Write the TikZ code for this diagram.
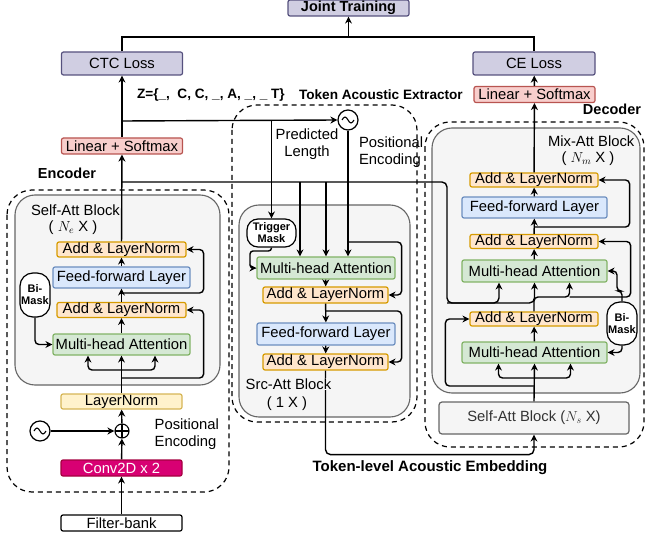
\documentclass[tikz,border=0pt]{standalone}
\usepackage{fontspec}
\setmainfont{Liberation Sans}
\usetikzlibrary{arrows.meta, positioning}
\definecolor{lossfill}{RGB}{208,206,226}
\definecolor{lossdraw}{RGB}{86,81,126}
\definecolor{linfill}{RGB}{248,206,204}
\definecolor{lindraw}{RGB}{184,84,80}
\definecolor{alnfill}{RGB}{255,230,204}
\definecolor{alndraw}{RGB}{215,155,0}
\definecolor{fffill}{RGB}{218,232,252}
\definecolor{ffdraw}{RGB}{108,142,191}
\definecolor{mhafill}{RGB}{213,232,212}
\definecolor{mhadraw}{RGB}{130,179,102}
\definecolor{lnfill}{RGB}{255,242,204}
\definecolor{lndraw}{RGB}{214,182,86}
\definecolor{convfill}{RGB}{216,0,115}
\definecolor{convdraw}{RGB}{165,0,64}
\definecolor{grayfill}{RGB}{245,245,245}
\definecolor{graydraw}{RGB}{102,102,102}

\begin{document}
\begin{tikzpicture}[x=1pt,y=-1pt,>={Stealth[length=7pt,width=7pt]},line width=1.4pt,
    every node/.style={font=\fontsize{14.8}{17}\selectfont},
    blk/.style={draw,rounded corners=2pt,inner sep=0pt,line width=1.2pt},
    loss/.style={blk,fill=lossfill,draw=lossdraw,minimum height=23pt},
    lin/.style={blk,fill=linfill,draw=lindraw,minimum width=121pt,minimum height=16pt},
    aln/.style={blk,fill=alnfill,draw=alndraw,minimum height=15pt},
    ffl/.style={blk,fill=fffill,draw=ffdraw,minimum height=21pt},
    mha/.style={blk,fill=mhafill,draw=mhadraw,minimum height=21pt},
    mask/.style={draw,fill=white,inner sep=0pt,align=center,line width=1.2pt,font=\fontsize{11}{12}\selectfont\bfseries},
    region/.style={dash pattern=on 5pt off 4pt,line width=1.2pt,rounded corners=25pt},
    grayblk/.style={draw=graydraw,fill=grayfill,line width=1.1pt,rounded corners=20pt},
    sine/.style={draw,circle,fill=white,minimum size=20pt,inner sep=0pt,line width=1.2pt,
        path picture={\draw[line width=1.1pt] ([xshift=-6pt]path picture bounding box.center) sin ++(3pt,3pt) cos ++(3pt,-3pt) sin ++(3pt,-3pt) cos ++(3pt,3pt);}},
    bold/.style={font=\fontsize{14.5}{17}\selectfont\bfseries}]
    \useasboundingbox (0,0) rectangle (645,537);

    % regions and blocks
    \draw[region] (7,190) rectangle (229,492);
    \draw[grayblk] (15,195) rectangle (220,385);
    \draw[region] (232,105) rectangle (417,422);
    \draw[grayblk] (239,205) rectangle (410,417);
    \draw[region] (425,122) rectangle (644,447);
    \draw[grayblk] (432,128) rectangle (640,393);

    % top
    \node[loss,minimum width=121pt,minimum height=16pt,font=\fontsize{14.5}{17}\selectfont\bfseries] (joint) at (348.5,8) {Joint Training};
    \node[loss,minimum width=121pt] (ctc) at (122,63.5) {CTC Loss};
    \node[loss,minimum width=122pt] (ce) at (534,63.5) {CE Loss};

    % encoder
    \node[lin] (enclin) at (122,146) {Linear + Softmax};
    \node[bold] (enclabel) at (67,173) {Encoder};
    \node[anchor=west] (encname) at (27,210) {Self-Att Block};
    \node (encrep) at (73,228) {( $N_e$ X )};
    \node[aln,minimum width=129pt] (encaln2) at (121.5,249.5) {Add \& LayerNorm};
    \node[ffl,minimum width=137pt] (encff) at (121.5,277.5) {Feed-forward Layer};
    \node[aln,minimum width=129pt] (encaln1) at (121.5,310) {Add \& LayerNorm};
    \node[mha,minimum width=137pt] (encmha) at (121.5,344.5) {Multi-head Attention};
    \node[mask,minimum width=30pt,minimum height=44pt,rounded corners=13pt] (encbim) at (35,295) {Bi-\\Mask};
    \node[blk,fill=lnfill,draw=lndraw,minimum width=121pt,minimum height=15pt] (encln) at (121.5,401.5) {LayerNorm};
    \node[sine] (encsin) at (40,431) {};
    \node[draw,circle,fill=white,minimum size=14pt,inner sep=0pt,line width=1.1pt,
        path picture={\draw[line width=1.1pt] (path picture bounding box.north) -- (path picture bounding box.south) (path picture bounding box.west) -- (path picture bounding box.east);}] (encadd) at (122,431) {};
    \node[anchor=west,align=left,fill=white,fill opacity=0.7,text opacity=1,inner sep=1pt] (encpe) at (153,434) {Positional\\Encoding};
    \node[blk,fill=convfill,draw=convdraw,text=white,minimum width=121pt,minimum height=16pt] (conv) at (121.5,468) {Conv2D x 2};
    \node[blk,fill=white,minimum width=121pt,minimum height=16pt] (fbank) at (121.5,523) {Filter-bank};

    % token acoustic extractor
    \node[bold,anchor=west,font=\fontsize{13.6}{16}\selectfont\bfseries] (zseq) at (133,95) {Z=\{\_,\ \ C, C, \_, A, \_, \_ T\}};
    \node[bold,anchor=west,font=\fontsize{13.6}{16}\selectfont\bfseries] (taelabel) at (295,95) {Token Acoustic Extractor};
    \node[sine] (pesin) at (348,120) {};
    \node[align=center] (predlen) at (307,144) {Predicted\\Length};
    \node[anchor=west,align=left] (taepe) at (355,152) {Positional\\Encoding};
    \node[mask,minimum width=49pt,minimum height=28pt,rounded corners=11pt] (tmask) at (271.5,233) {Trigger\\Mask};
    \node[mha,minimum width=138pt,minimum height=22pt] (tmha) at (326,268) {Multi-head Attention};
    \node[aln,minimum width=125pt,minimum height=16pt] (taln1) at (325.5,295) {Add \& LayerNorm};
    \node[ffl,minimum width=138pt,minimum height=22pt] (tff) at (326,334) {Feed-forward Layer};
    \node[aln,minimum width=125pt,minimum height=16pt] (taln2) at (325.5,362) {Add \& LayerNorm};
    \node[bold,font=\fontsize{15}{17}\selectfont\bfseries] (embedlabel) at (430,468) {Token-level Acoustic Embedding};

    % decoder
    \node[lin] (declin) at (534.5,94.5) {Linear + Softmax};
    \node[bold] (declabel) at (612,109) {Decoder};
    \node[anchor=west] (decname) at (544,141) {Mix-Att Block};
    \node (decrep) at (588,159) {( $N_m$ X )};
    \node[aln,minimum width=128pt,minimum height=14pt] (daln3) at (534,180) {Add \& LayerNorm};
    \node[ffl,minimum width=145pt] (dff) at (534.5,207.5) {Feed-forward Layer};
    \node[aln,minimum width=128pt,minimum height=14pt] (daln2) at (534,241.5) {Add \& LayerNorm};
    \node[mha,minimum width=145pt,minimum height=22pt] (dmha2) at (534.5,271) {Multi-head Attention};
    \node[aln,minimum width=128pt,minimum height=14pt] (daln1) at (534,319) {Add \& LayerNorm};
    \node[mha,minimum width=145pt] (dmha1) at (534.5,352.5) {Multi-head Attention};
    \node[mask,minimum width=30pt,minimum height=43pt,rounded corners=13pt] (dbim) at (622,323.5) {Bi-\\Mask};
    \node[blk,draw=graydraw,fill=grayfill,text=black!80,minimum width=190pt,minimum height=32pt,rounded corners=3pt] (dself) at (534,418) {Self-Att Block ($N_s$ X)};

    % joint training
    \coordinate (jtop) at (348,37);
    \draw (ctc.north) |- (jtop) -| (ce.north);
    \draw[->] (jtop) -- (joint.south |- jtop) -- (joint.south);

    % encoder connectors
    \draw[->] (fbank) -- (conv);
    \draw[->] (conv) -- (encadd);
    \draw[->] (encsin) -- (encadd);
    \draw[->] (encadd) -- (encln);
    \draw[->] (encln) -- (encmha);
    \coordinate (encfork) at (122,370);
    \draw[->,rounded corners=4pt] (encfork) -| ([xshift=-33.5pt]encmha.south);
    \draw[->,rounded corners=4pt] (encfork) -| ([xshift=33.5pt]encmha.south);
    \coordinate (encres1) at (122,378);
    \draw[->,rounded corners=4pt] (encres1) -| ([xshift=17pt]encaln1.east) -- (encaln1.east);
    \draw[->] (encmha) -- (encaln1);
    \draw[->] (encaln1) -- (encff);
    \coordinate (encres2) at (122,293);
    \draw[->,rounded corners=4pt] (encres2) -| ([xshift=17pt]encaln2.east) -- (encaln2.east);
    \draw[->] (encff) -- (encaln2);
    \draw[->,rounded corners=4pt] (encbim.south) |- (encmha.west);
    \draw[->] (encaln2) -- (enclin);
    \draw[->] (enclin) -- (ctc);

    % extractor connectors
    \coordinate (zout) at (122,121);
    \coordinate (encout) at (122,182);
    \draw[->] (zout) -- (pesin.west);
    \draw[->,rounded corners=4pt] (zout -| tmask.north) -- (tmask.north);
    \draw[->,rounded corners=4pt] ([xshift=-26pt]tmha.north |- encout) -- ([xshift=-26pt]tmha.north);
    \draw[->,rounded corners=4pt] (tmha.north |- encout) -- (tmha.north);
    \draw[->] (pesin.south) -- ([xshift=22pt]tmha.north);
    \coordinate (peres) at (348,242);
    \draw[->,rounded corners=4pt] (peres) -| ([xshift=13pt]taln1.east) -- (taln1.east);
    \draw[->,rounded corners=3pt] (tmask.south) |- (250,251) |- (tmha.west);
    \draw[->] (tmha) -- (taln1);
    \draw[->] (taln1) -- (tff);
    \coordinate (tres) at (326,311);
    \draw[->,rounded corners=4pt] (tres) -| ([xshift=13pt]taln2.east) -- (taln2.east);
    \draw[->] (tff) -- (taln2);
    \draw[->,rounded corners=5pt] (taln2.south) -- ++(0,84) -| (dself.south);

    % decoder connectors
    \coordinate (memturn) at (447,303);
    \draw[->,rounded corners=5pt] (encout) -| (memturn) -| ([xshift=-35.5pt]dmha2.south);
    \draw[->,rounded corners=5pt] (memturn) -| (dmha2.south);
    \draw[->] (dself.north) -- (dmha1.south);
    \coordinate (dfork) at (534,378);
    \draw[->,rounded corners=4pt] (dfork) -| ([xshift=-36pt]dmha1.south);
    \draw[->,rounded corners=4pt] (dfork) -| ([xshift=36pt]dmha1.south);
    \coordinate (dres1) at (534,386);
    \draw[->,rounded corners=4pt] (dres1) -| ([xshift=-24pt]daln1.west) -- (daln1.west);
    \draw[->] (dmha1) -- (daln1);
    \coordinate (dq) at (569.5,297);
    \draw[->,rounded corners=4pt] (daln1.north) |- (dq) -- ([xshift=35pt]dmha2.south);
    \draw[->,rounded corners=4pt] (dq) -| ([xshift=32pt]daln2.east) -- (daln2.east);
    \draw[->,rounded corners=4pt] (dbim.north) |- (617,291) |- (dmha2.east);
    \draw[->,rounded corners=4pt] (dbim.south) |- (dmha1.east);
    \draw[->] (dmha2) -- (daln2);
    \draw[->] (daln2) -- (dff);
    \coordinate (dres2) at (534,227);
    \draw[->,rounded corners=4pt] (dres2) -| ([xshift=31pt]daln3.east) -- (daln3.east);
    \draw[->] (dff) -- (daln3);
    \draw[->] (daln3) -- (declin);
    \draw[->] (declin) -- (ce);

    % block names over the wiring
    \node[anchor=west,fill=grayfill,inner sep=1pt] (taename) at (244,384) {Src-Att Block};
    \node (taerep) at (287,404) {( 1 X )};
\end{tikzpicture}
\end{document}
